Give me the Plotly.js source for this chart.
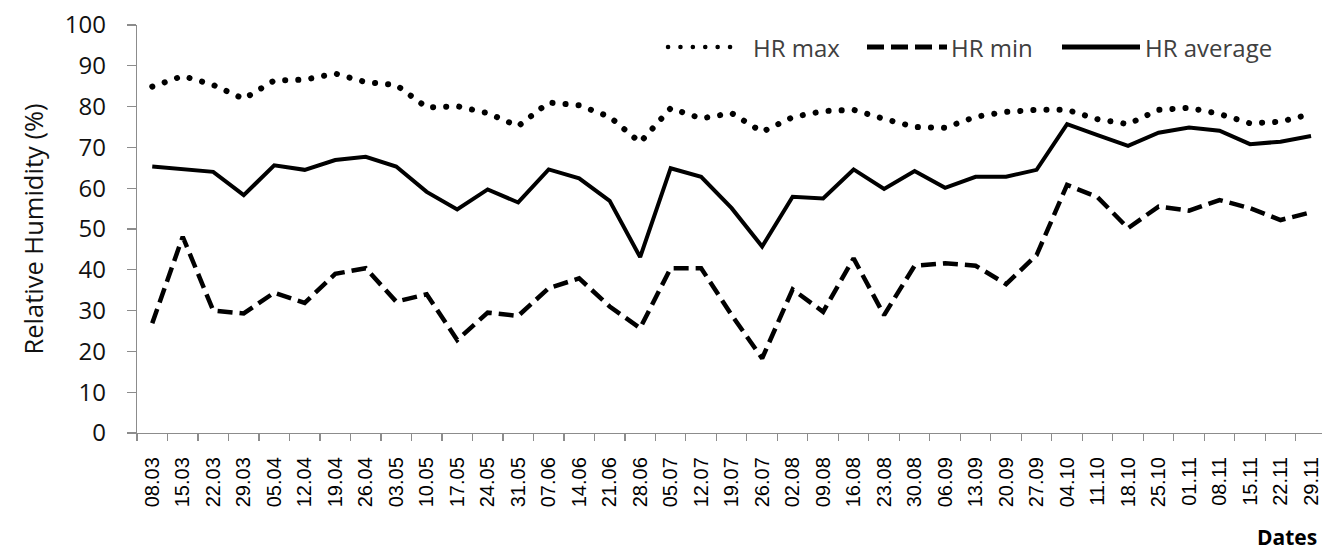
<!DOCTYPE html>
<html>
<head>
<meta charset="utf-8">
<script src="https://cdn.plot.ly/plotly-3.0.1.min.js"></script>
<style>
html,body{margin:0;padding:0;background:#fff;}
#chart{width:1322px;height:550px;}
</style>
</head>
<body>
<div id="chart"></div>
<script>
const dates = ["08.03","15.03","22.03","29.03","05.04","12.04","19.04","26.04","03.05","10.05",
  "17.05","24.05","31.05","07.06","14.06","21.06","28.06","05.07","12.07","19.07",
  "26.07","02.08","09.08","16.08","23.08","30.08","06.09","13.09","20.09","27.09",
  "04.10","11.10","18.10","25.10","01.11","08.11","15.11","22.11","29.11"];
const hrMax = [84.9,87.5,85.3,81.9,86.4,86.6,88.1,86.0,85.3,79.8,
  80.1,78.4,75.2,81.0,80.3,77.5,71.2,79.6,77.1,78.4,
  73.8,77.4,78.9,79.2,77.0,75.0,74.8,77.5,78.7,79.2,
  79.2,76.9,75.7,79.2,79.7,78.2,75.9,76.3,78.2];
const hrMin = [26.9,48.1,30.0,29.3,34.4,31.9,39.0,40.4,32.2,34.0,
  22.8,29.5,28.7,35.5,37.9,31.0,25.7,40.4,40.4,28.9,
  18.3,35.2,29.7,42.8,28.9,41.0,41.6,41.0,36.5,43.6,
  60.8,57.8,50.2,55.5,54.5,57.1,55.1,52.2,54.1];
const hrAvg = [65.3,64.6,64.0,58.3,65.6,64.5,66.9,67.7,65.3,59.1,
  54.8,59.7,56.5,64.6,62.4,56.9,43.1,64.9,62.8,55.1,
  45.7,57.9,57.5,64.6,59.8,64.2,60.1,62.8,62.8,64.5,
  75.7,73.0,70.4,73.6,74.9,74.1,70.8,71.4,72.8];
const seriesNames = ["HR max","HR min","HR average"];
const yTicks = [0,10,20,30,40,50,60,70,80,90,100];

const W = 1322, H = 550, L = 137, R = 0, T = 25, B = 117;
const px2x = p => (p - L) / (W - L - R);
const py2y = p => (H - B - p) / (H - B - T);

const styles = [
  {width:6, dash:"0.1px,13px"},
  {width:4.5, dash:"15px,7px"},
  {width:4, dash:"solid"}
];
const values = [hrMax, hrMin, hrAvg];

const traces = values.map((v,i) => ({
  x: dates, y: v, type:"scatter", mode:"lines", name: seriesNames[i],
  line:{color:"#000", width:styles[i].width, dash:styles[i].dash},
  showlegend:false, hoverinfo:"skip"
}));

// legend drawn manually (long samples as in the reference)
const legendY = py2y(47);
const legendItems = [
  {x0:668, x1:742, tx:751},
  {x0:867, x1:947, tx:949},
  {x0:1062, x1:1140, tx:1143}
];
const shapes = legendItems.map((it,i) => ({
  type:"line", xref:"paper", yref:"paper",
  x0:px2x(it.x0), x1:px2x(it.x1), y0:legendY, y1:legendY,
  line:{color:"#000", width: i===0?4.5:5, dash: i===0?"0.1px,12.3px":(i===1?"17px,7px":"solid")}
}));
const annotations = legendItems.map((it,i) => ({
  xref:"paper", yref:"paper", x:px2x(it.tx), y:legendY, xanchor:"left", yanchor:"middle",
  text: seriesNames[i], showarrow:false,
  font:{family:"Open Sans", size:24, color:"#404040"}
}));
annotations.push({
  xref:"paper", yref:"paper", x:px2x(1319), y:py2y(537), xanchor:"right", yanchor:"middle",
  text:"<b>Dates</b>", showarrow:false,
  font:{family:"Open Sans", size:21, color:"#000"}
});

const layout = {
  width:W, height:H,
  margin:{l:L, r:R, t:T, b:B, pad:0},
  paper_bgcolor:"#fff", plot_bgcolor:"#fff",
  showlegend:false,
  xaxis:{
    type:"category", range:[-0.5, 38.36], fixedrange:true,
    showgrid:false, zeroline:false,
    showline:true, linecolor:"#8c8c8c", linewidth:1.2,
    ticks:"outside", tickson:"boundaries", ticklen:7, tickcolor:"#8c8c8c", tickwidth:1.2,
    tickangle:-90, ticklabelstandoff:15,
    tickfont:{family:"Liberation Sans", size:20, color:"#000"}
  },
  yaxis:{
    range:[0,100], fixedrange:true,
    tickvals:yTicks, ticktext:yTicks.map(String),
    showgrid:false, zeroline:false,
    showline:true, linecolor:"#8c8c8c", linewidth:1.2,
    ticks:"outside", ticklen:9, tickcolor:"#8c8c8c", tickwidth:1.2,
    ticklabelstandoff:16,
    tickfont:{family:"Open Sans", size:24, color:"#111"},
    title:{text:"Relative Humidity (%)", standoff:14,
      font:{family:"Open Sans", size:25.5, color:"#111"}}
  },
  shapes: shapes,
  annotations: annotations
};

Plotly.newPlot("chart", traces, layout, {staticPlot:true}).then(() => {
  const tr = document.querySelectorAll(".scatterlayer .trace");
  if (tr[0]) tr[0].querySelectorAll("path.js-line").forEach(p => p.style.strokeLinecap = "round");
  const sh = document.querySelectorAll(".shapelayer path");
  if (sh[0]) sh[0].style.strokeLinecap = "round";
});
</script>
</body>
</html>
